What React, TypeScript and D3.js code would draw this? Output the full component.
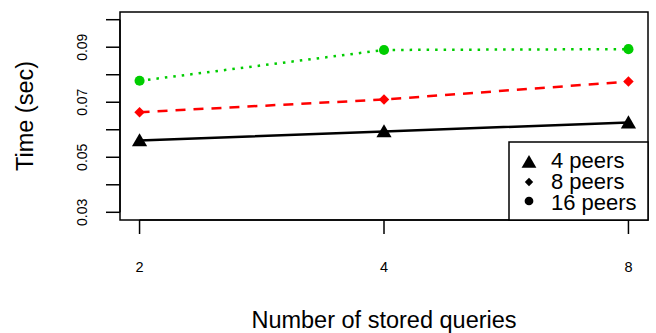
import * as d3 from 'd3';
import { useEffect, useRef } from 'react';

const WIDTH = 656, HEIGHT = 333;
const MARGIN = { left: 120, right: 8, top: 12, bottom: 113 };

const queries = [2, 4, 8];
const peers4 = [0.0561, 0.0594, 0.0626];
const peers8 = [0.0664, 0.0710, 0.0775];
const peers16 = [0.0778, 0.0890, 0.0893];
const yTicks = [0.03, 0.04, 0.05, 0.06, 0.07, 0.08, 0.09, 0.10];
const yLabels = ['0.03', '0.05', '0.07', '0.09'];
const legendNames = ['4 peers', '8 peers', '16 peers'];

const FONT = '"Liberation Sans", Arial, Helvetica, sans-serif';

const series = [
    { name: legendNames[0], values: peers4, color: '#000000', dash: null, shape: 'triangle' },
    { name: legendNames[1], values: peers8, color: '#ff0000', dash: '10,8', shape: 'diamond' },
    { name: legendNames[2], values: peers16, color: '#00cd00', dash: '2.5,6', shape: 'circle' },
];

const symbolPath = (shape, size) => {
    if (shape === 'triangle') return d3.symbol(d3.symbolTriangle, size)();
    if (shape === 'diamond') return d3.symbol(d3.symbolDiamond2, size)();
    return d3.symbol(d3.symbolCircle, size)();
};

const App = () => {
    const ref = useRef(null);

    useEffect(() => {
        const svg = d3.select(ref.current);
        svg.selectAll('*').remove();

        const left = MARGIN.left, right = WIDTH - MARGIN.right;
        const top = MARGIN.top, bottom = HEIGHT - MARGIN.bottom;

        // R style 4% padding on both axes
        const x = d3.scaleLog().base(2)
            .domain([Math.pow(2, 0.92), Math.pow(2, 3.08)])
            .range([left, right]);
        const y = d3.scaleLinear()
            .domain([0.03 - 0.0028, 0.10 + 0.0028])
            .range([bottom, top]);

        // lines + points
        series.forEach(s => {
            const line = d3.line().x((d, i) => x(queries[i])).y(d => y(d));
            svg.append('path')
                .attr('d', line(s.values))
                .attr('fill', 'none')
                .attr('stroke', s.color)
                .attr('stroke-width', 2.5)
                .attr('stroke-dasharray', s.dash);

            const size = s.shape === 'triangle' ? 100 : s.shape === 'diamond' ? 70 : 80;
            svg.selectAll(null).data(s.values).enter()
                .append('path')
                .attr('d', symbolPath(s.shape, size))
                .attr('transform', (d, i) => `translate(${x(queries[i])},${y(d) + (s.shape === 'triangle' ? 1.5 : 0)})`)
                .attr('fill', s.color);
        });

        // box
        svg.append('rect')
            .attr('x', left).attr('y', top)
            .attr('width', right - left).attr('height', bottom - top)
            .attr('fill', 'none').attr('stroke', '#000').attr('stroke-width', 1.5);

        // y axis
        const yAxis = svg.append('g');
        yAxis.append('line')
            .attr('x1', left).attr('x2', left)
            .attr('y1', y(yTicks[0])).attr('y2', y(yTicks[yTicks.length - 1]))
            .attr('stroke', '#000').attr('stroke-width', 1.5);
        yAxis.selectAll('line.tick').data(yTicks).enter()
            .append('line').attr('class', 'tick')
            .attr('x1', left).attr('x2', left - 14)
            .attr('y1', d => y(d)).attr('y2', d => y(d))
            .attr('stroke', '#000').attr('stroke-width', 1.5);
        yAxis.selectAll('text').data(yLabels).enter()
            .append('text')
            .attr('transform', d => `translate(87,${y(+d)}) rotate(-90)`)
            .attr('text-anchor', 'middle')
            .attr('font-family', FONT)
            .attr('font-size', 14)
            .text(d => d);

        // x axis
        const xAxis = svg.append('g');
        xAxis.append('line')
            .attr('x1', x(queries[0])).attr('x2', x(queries[queries.length - 1]))
            .attr('y1', bottom).attr('y2', bottom)
            .attr('stroke', '#000').attr('stroke-width', 1.5);
        xAxis.selectAll('line.tick').data(queries).enter()
            .append('line').attr('class', 'tick')
            .attr('x1', d => x(d)).attr('x2', d => x(d))
            .attr('y1', bottom).attr('y2', bottom + 14)
            .attr('stroke', '#000').attr('stroke-width', 1.5);
        xAxis.selectAll('text').data(queries).enter()
            .append('text')
            .attr('x', d => x(d)).attr('y', 272)
            .attr('text-anchor', 'middle')
            .attr('font-family', FONT)
            .attr('font-size', 14.5)
            .text(d => d);

        // axis titles
        svg.append('text')
            .attr('x', (left + right) / 2).attr('y', 328)
            .attr('text-anchor', 'middle')
            .attr('font-family', FONT).attr('font-size', 23.5)
            .text('Number of stored queries');
        svg.append('text')
            .attr('transform', `translate(33,${(top + bottom) / 2}) rotate(-90)`)
            .attr('text-anchor', 'middle')
            .attr('font-family', FONT).attr('font-size', 23.5)
            .text('Time (sec)');

        // legend
        const lg = svg.append('g');
        lg.append('rect')
            .attr('x', 509).attr('y', 142)
            .attr('width', right - 509).attr('height', bottom - 142)
            .attr('fill', '#fff').attr('stroke', '#000').attr('stroke-width', 1.5);
        const rows = [162, 182, 201];
        const baselines = [168, 189, 210];
        series.forEach((s, i) => {
            const size = s.shape === 'triangle' ? 95 : s.shape === 'diamond' ? 45 : 60;
            lg.append('path')
                .attr('d', symbolPath(s.shape, size))
                .attr('transform', `translate(529,${rows[i] + (s.shape === 'triangle' ? 1.5 : 0)})`)
                .attr('fill', '#000');
            lg.append('text')
                .attr('x', 551).attr('y', baselines[i])
                .attr('font-family', FONT).attr('font-size', 22)
                .text(s.name);
        });
    }, []);

    return (
        <svg ref={ref} width={WIDTH} height={HEIGHT}
            style={{ position: 'absolute', left: 0, top: 0, background: '#fff' }} />
    );
};

export default App;
